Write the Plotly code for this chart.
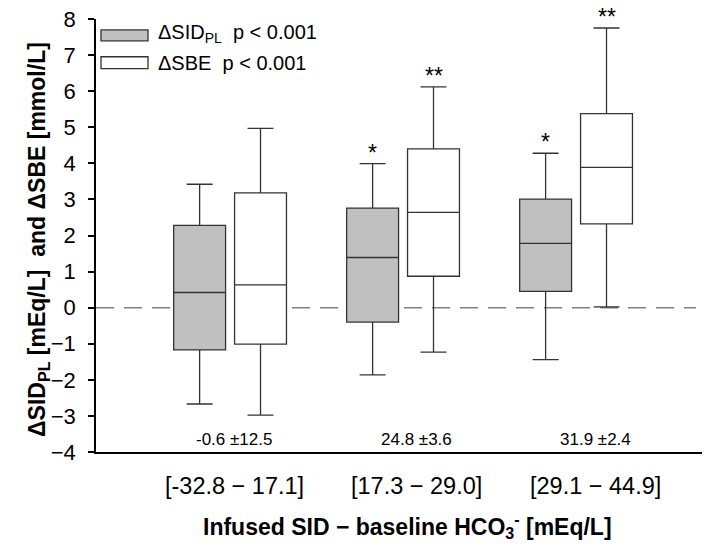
import plotly.graph_objects as go

categories = ["[-32.8 \u2212 17.1]", "[17.3 \u2212 29.0]", "[29.1 \u2212 44.9]"]
cat_notes = ["-0.6 \u00b112.5", "24.8 \u00b13.6", "31.9 \u00b12.4"]

# dSID_PL
sid_low = [-2.67, -1.86, -1.44]
sid_q1 = [-1.17, -0.40, 0.45]
sid_med = [0.42, 1.39, 1.78]
sid_q3 = [2.28, 2.76, 3.01]
sid_high = [3.42, 3.99, 4.28]
sid_marks = ["", "*", "*"]

# dSBE
sbe_low = [-2.98, -1.23, 0.02]
sbe_q1 = [-1.01, 0.87, 2.32]
sbe_med = [0.63, 2.64, 3.89]
sbe_q3 = [3.18, 4.40, 5.38]
sbe_high = [4.97, 6.12, 7.75]
sbe_marks = ["", "**", "**"]

pos = [1, 2, 3]
off = 0.176
bw = 0.30
line_col = "#333333"
font = "Liberation Sans, Arial, sans-serif"

fig = go.Figure()
fig.add_trace(go.Box(
    x=[p - off for p in pos], q1=sid_q1, median=sid_med, q3=sid_q3,
    lowerfence=sid_low, upperfence=sid_high, width=bw, whiskerwidth=0.5,
    fillcolor="#c0c0c0", line=dict(color=line_col, width=1.3),
    showlegend=False, hoverinfo="skip"))
fig.add_trace(go.Box(
    x=[p + off for p in pos], q1=sbe_q1, median=sbe_med, q3=sbe_q3,
    lowerfence=sbe_low, upperfence=sbe_high, width=bw, whiskerwidth=0.5,
    fillcolor="#ffffff", line=dict(color=line_col, width=1.3),
    showlegend=False, hoverinfo="skip"))

# zero reference line
fig.add_shape(type="line", xref="paper", yref="y", x0=0, x1=0.99, y0=0, y1=0,
              line=dict(color="#808080", width=1.5, dash="18px,10px"), layer="below")

annotations = []
for p, m, h in zip(pos, sid_marks, sid_high):
    if m:
        annotations.append(dict(x=p - off, y=h, text=m, showarrow=False, yanchor="bottom",
                                yshift=-4, font=dict(family=font, size=23, color="black")))
for p, m, h in zip(pos, sbe_marks, sbe_high):
    if m:
        annotations.append(dict(x=p + off, y=h, text=m, showarrow=False, yanchor="bottom",
                                yshift=-4, font=dict(family=font, size=23, color="black")))

lab_x = [1.023, 2.08, 3.11]
for x, c, n in zip(lab_x, categories, cat_notes):
    annotations.append(dict(x=x, y=-3.65, text=n, showarrow=False,
                            font=dict(family=font, size=17, color="black")))
    annotations.append(dict(x=x, xref="x", y=0, yref="paper", yanchor="middle", yshift=-34,
                            text=c, showarrow=False,
                            font=dict(family=font, size=23.5, color="black")))

# legend (manual)
fig.add_shape(type="rect", xref="paper", yref="paper", x0=(101-96)/606, x1=(148-96)/606,
              y0=(452-38)/436, y1=(452-27)/436, fillcolor="#c0c0c0",
              line=dict(color=line_col, width=1.3))
fig.add_shape(type="rect", xref="paper", yref="paper", x0=(101-96)/606, x1=(148-96)/606,
              y0=(452-66)/436, y1=(452-54)/436, fillcolor="#ffffff",
              line=dict(color=line_col, width=1.3))
annotations.append(dict(xref="paper", yref="paper", x=(156-96)/606, y=(452-31)/436,
                        xanchor="left", yanchor="middle", showarrow=False,
                        text="\u0394SID<sub>PL</sub>  p < 0.001",
                        font=dict(family=font, size=20, color="black")))
annotations.append(dict(xref="paper", yref="paper", x=(156-96)/606, y=(452-60)/436,
                        xanchor="left", yanchor="middle", showarrow=False,
                        text="\u0394SBE  p < 0.001",
                        font=dict(family=font, size=20, color="black")))

# axis titles
annotations.append(dict(xref="paper", yref="paper", x=(407-96)/606, y=0, yanchor="middle",
                        yshift=-74, showarrow=False,
                        text="<b>Infused SID \u2212 baseline HCO<sub>3</sub><sup>-</sup> [mEq/L]</b>",
                        font=dict(family=font, size=23, color="black")))
annotations.append(dict(xref="paper", yref="paper", x=0, xshift=-74, y=(452-238)/436,
                        textangle=-90, showarrow=False,
                        text="<b>\u0394SID<sub>PL</sub> [mEq/L]  and \u0394SBE [mmol/L]</b>",
                        font=dict(family=font, size=23, color="black")))

fig.update_layout(
    width=709, height=551,
    margin=dict(l=96, r=7, t=16, b=99),
    paper_bgcolor="white", plot_bgcolor="white",
    annotations=annotations,
    xaxis=dict(range=[0.225, 3.728], showticklabels=False, ticks="", showgrid=False,
               zeroline=False, showline=True, linecolor="black", linewidth=1.5),
    yaxis=dict(range=[-4, 8], tickvals=list(range(-4, 9)), ticks="outside", ticklen=6,
               tickcolor="black", tickwidth=1.5, showgrid=False, zeroline=False,
               showline=True, linecolor="black", linewidth=1.5, ticklabelstandoff=8,
               tickfont=dict(family=font, size=22, color="black")),
)

fig.write_html("out.html")
